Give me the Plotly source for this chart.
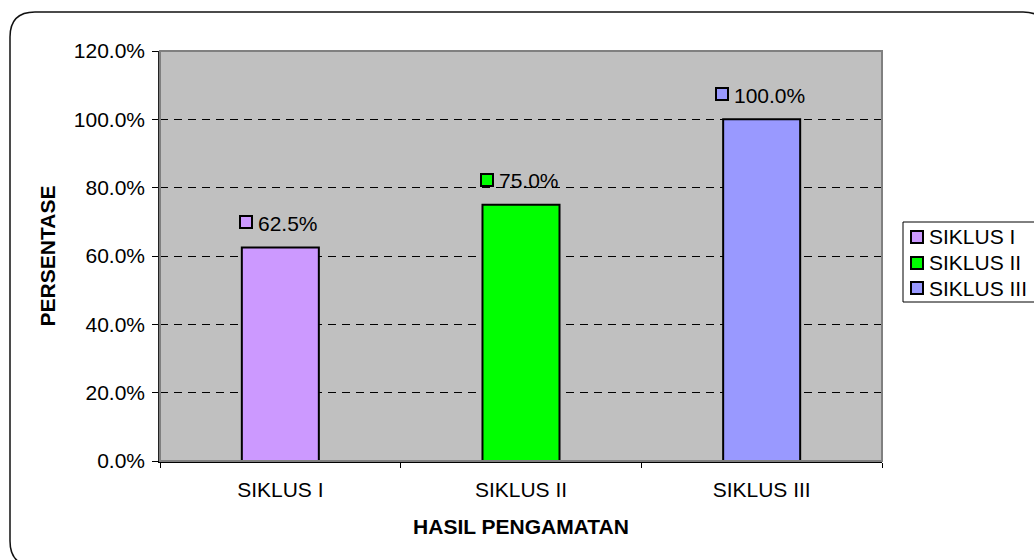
import plotly.graph_objects as go

categories = ["SIKLUS I", "SIKLUS II", "SIKLUS III"]
values = [62.5, 75.0, 100.0]
colors = ["#CC99FF", "#00FF00", "#9999FF"]
y_ticks = [0, 20, 40, 60, 80, 100, 120]
y_tick_text = [f"{v:.1f}%" for v in y_ticks]

W, H = 1034, 560
L, R, T, B = 160, 882, 51, 461   # plot-area pixel box
FONT = "Arial, Liberation Sans, sans-serif"
FS = 21

def px(x):
    return (x - L) / (R - L)

def py(y):
    return (B - y) / (B - T)

fig = go.Figure()
for cat, val, col in zip(categories, values, colors):
    fig.add_trace(go.Bar(
        x=[cat], y=[val], name=cat, width=0.32,
        marker=dict(color=col, line=dict(color="black", width=2)),
        showlegend=False,
    ))

# data labels: square key + value text, centered over each bar
char_w = {".": 0.278, "%": 0.889}
annotations = []
for cat, val, col in zip(categories, values, colors):
    txt = f"{val:.1f}%"
    tw = sum(char_w.get(c, 0.556) for c in txt) * FS
    sq, gap = 14, 5
    gw = sq + gap + tw
    annotations.append(dict(
        x=cat, y=val, xref="x", yref="y", text=txt, showarrow=False,
        xanchor="left", yanchor="middle", xshift=-gw / 2 + sq + gap - 4, yshift=24,
        font=dict(family=FONT, size=FS, color="black"),
    ))
    annotations.append(dict(
        x=cat, y=val, xref="x", yref="y", text=" ", showarrow=False,
        xanchor="center", yanchor="middle", xshift=-gw / 2 + sq / 2 - 2, yshift=25,
        width=10, height=10, bgcolor=col, bordercolor="black", borderwidth=2,
        borderpad=0, font=dict(size=1),
    ))

# legend (drawn manually to match the original layout)
LEG_X0, LEG_TOP, LEG_ROW = 903, 222, 25.5
for i, (cat, col) in enumerate(zip(categories, colors)):
    yc = LEG_TOP + 15 + i * LEG_ROW
    annotations.append(dict(
        x=px(LEG_X0 + 14), y=py(yc), xref="paper", yref="paper", text=" ",
        showarrow=False, xanchor="center", yanchor="middle",
        width=10, height=10, bgcolor=col, bordercolor="black", borderwidth=2,
        borderpad=0, font=dict(size=1),
    ))
    annotations.append(dict(
        x=px(LEG_X0 + 24), y=py(yc), xref="paper", yref="paper", text=cat,
        showarrow=False, xanchor="left", yanchor="middle",
        font=dict(family=FONT, size=FS, color="black"),
    ))

shapes = [
    # outer rounded frame
    dict(type="path", xref="paper", yref="paper", layer="above",
         path=(f"M {px(10)},{py(37)} Q {px(10)},{py(12)} {px(35)},{py(12)} "
               f"L {px(1023)},{py(12)} Q {px(1048)},{py(12)} {px(1048)},{py(37)} "
               f"L {px(1048)},{py(541)} Q {px(1048)},{py(566)} {px(1023)},{py(566)} "
               f"L {px(35)},{py(566)} Q {px(10)},{py(566)} {px(10)},{py(541)} Z"),
         line=dict(color="#111111", width=1.5)),
    # plot area border (gray)
    dict(type="rect", xref="paper", yref="paper", x0=0, x1=1, y0=0, y1=1,
         layer="above", line=dict(color="#808080", width=2)),
    # legend box
    dict(type="rect", xref="paper", yref="paper", layer="below",
         x0=px(LEG_X0), x1=px(1060), y0=py(302), y1=py(LEG_TOP),
         fillcolor="white", line=dict(color="black", width=1)),
]

fig.update_layout(
    width=W, height=H, autosize=False,
    margin=dict(l=L, r=W - R, t=T, b=H - B, pad=0),
    paper_bgcolor="white", plot_bgcolor="#C0C0C0",
    barmode="overlay",
    font=dict(family=FONT, size=FS, color="black"),
    showlegend=False,
    annotations=annotations,
    shapes=shapes,
)

fig.update_xaxes(
    type="category", range=[-0.5, 2.5], tickson="boundaries",
    ticks="outside", ticklen=5, tickcolor="black", tickwidth=1,
    showline=True, linecolor="black", linewidth=2, showgrid=False,
    ticklabelstandoff=9,
    tickfont=dict(family=FONT, size=FS, color="black"),
    title=dict(text="<b>HASIL PENGAMATAN</b>", standoff=19,
               font=dict(family=FONT, size=FS, color="black")),
)
fig.update_yaxes(
    range=[0, 120], tickmode="array", tickvals=y_ticks, ticktext=y_tick_text,
    ticks="outside", ticklen=6, tickcolor="black", tickwidth=1,
    showline=True, linecolor="#222222", linewidth=1.5,
    showgrid=True, gridcolor="black", gridwidth=1, griddash="8px,6px",
    zeroline=False, ticklabelstandoff=3,
    tickfont=dict(family=FONT, size=FS, color="black"),
    title=dict(text="<b>PERSENTASE</b>", standoff=12,
               font=dict(family=FONT, size=FS, color="black")),
)

fig.write_html("out.html", config={"displayModeBar": False},
               post_script="document.body.style.margin='0';")
